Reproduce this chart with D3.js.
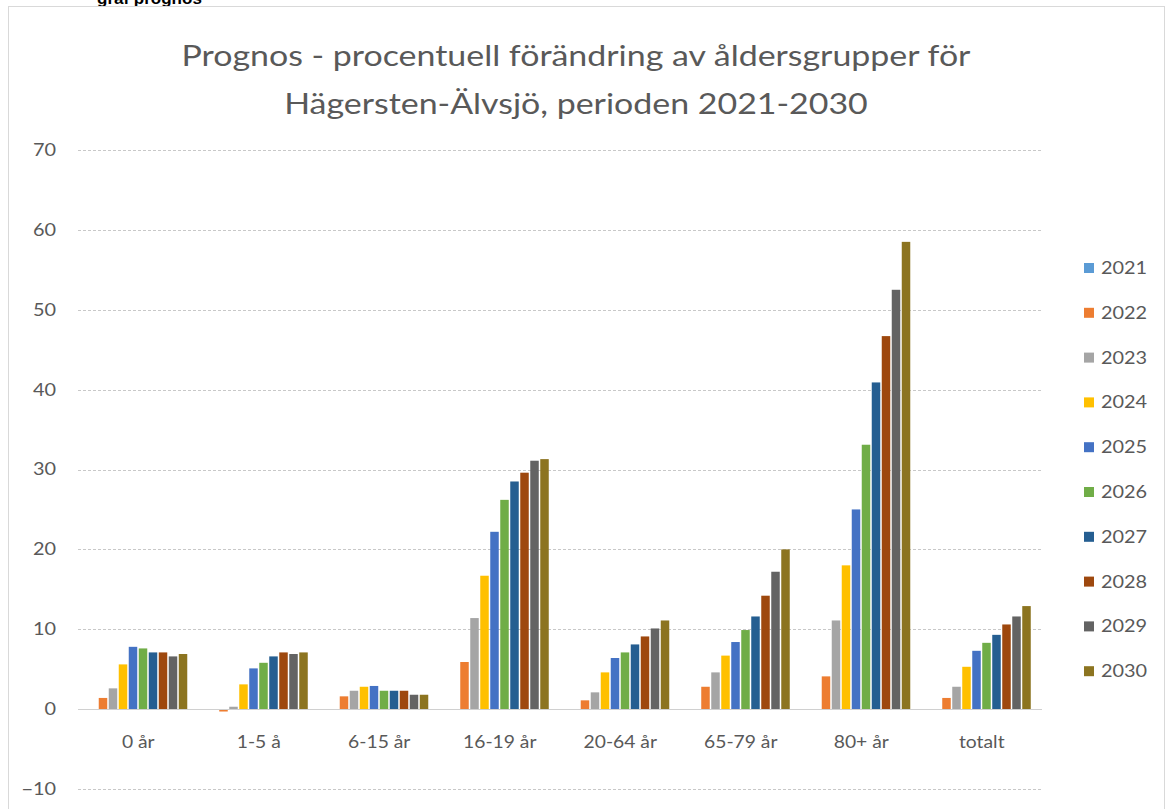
<!DOCTYPE html>
<html><head><meta charset="utf-8">
<script src="https://cdn.jsdelivr.net/npm/d3@7/dist/d3.min.js"></script>
<style>
html,body{margin:0;padding:0;background:#fff;overflow:hidden;}
svg{display:block;}
</style></head>
<body>
<svg id="chart" width="1168" height="809"></svg>
<script>
const categories = ["0 år","1-5 å","6-15 år","16-19 år","20-64 år","65-79 år","80+ år","totalt"];
const years = ["2021","2022","2023","2024","2025","2026","2027","2028","2029","2030"];
const colors = ["#5B9BD5","#ED7D31","#A5A5A5","#FFC000","#4472C4","#70AD47","#255E91","#9E480E","#636363","#8C7420"];
const v2021 = [0,0,0,0,0,0,0,0];
const v2022 = [1.4,-0.3,1.6,5.9,1.1,2.8,4.1,1.4];
const v2023 = [2.6,0.3,2.3,11.4,2.1,4.6,11.1,2.8];
const v2024 = [5.6,3.1,2.8,16.7,4.6,6.7,18.0,5.3];
const v2025 = [7.8,5.1,2.9,22.2,6.4,8.4,25.0,7.3];
const v2026 = [7.6,5.8,2.3,26.2,7.1,9.9,33.1,8.3];
const v2027 = [7.1,6.6,2.3,28.5,8.1,11.6,40.9,9.3];
const v2028 = [7.1,7.1,2.3,29.6,9.1,14.2,46.7,10.6];
const v2029 = [6.6,6.9,1.8,31.1,10.1,17.2,52.5,11.6];
const v2030 = [6.9,7.1,1.8,31.3,11.1,20.0,58.5,12.9];
const seriesValues = [v2021,v2022,v2023,v2024,v2025,v2026,v2027,v2028,v2029,v2030];
const yTicks = [-10,0,10,20,30,40,50,60,70];
const titleLines = ["Prognos - procentuell förändring av åldersgrupper för","Hägersten-Älvsjö, perioden 2021-2030"];

const svg = d3.select("#chart");
const font = "Lato, 'Open Sans', sans-serif";
const textColor = "#595959";
const sx = "scale(1.17,1)";

// partially visible heading above frame
svg.append("text").attr("x",97).attr("y",4).attr("font-family","'Liberation Sans',Arial,sans-serif")
  .attr("font-weight","bold").attr("font-size",17).attr("fill","#000").text("graf prognos");

// frame
svg.append("rect").attr("x",8.5).attr("y",6.5).attr("width",1156).attr("height",820)
  .attr("fill","#fff").attr("stroke","#d9d9d9").attr("stroke-width",1);

const x0 = d3.scaleBand().domain(categories).range([78,1042]).paddingInner(0.17).paddingOuter(0.085);
const x1 = d3.scaleBand().domain(years).range([0,x0.bandwidth()]);
const y = d3.scaleLinear().domain([-10,70]).range([789,150]);

// gridlines
const grid = svg.append("g");
grid.selectAll("line").data(yTicks.filter(t=>t!==0)).join("line")
  .attr("x1",78).attr("x2",1042)
  .attr("y1",d=>Math.round(y(d))+0.5).attr("y2",d=>Math.round(y(d))+0.5)
  .attr("stroke","#c8c8c8").attr("stroke-width",1).attr("stroke-dasharray","3,2");

// y axis labels via d3 axis
const yAxis = svg.append("g").attr("transform","translate(56,0)")
  .call(d3.axisLeft(y).tickValues(yTicks).tickSize(0).tickPadding(0).tickFormat(d3.format("d")));
yAxis.select(".domain").remove();
yAxis.selectAll("text").attr("font-family",font).attr("font-size",17).attr("fill",textColor).attr("transform",sx);

// bars
const groups = svg.append("g").selectAll("g").data(seriesValues).join("g")
  .attr("fill",(d,i)=>colors[i]);
groups.selectAll("rect").data((d,i)=>d.map((v,j)=>({v,cat:categories[j],yr:years[i]}))).join("rect")
  .attr("x",d=>x0(d.cat)+x1(d.yr)+0.5)
  .attr("width",x1.bandwidth()-1.5)
  .attr("y",d=>y(Math.max(0,d.v)))
  .attr("height",d=>Math.abs(y(d.v)-y(0)));

// zero line
svg.append("line").attr("x1",78).attr("x2",1042).attr("y1",Math.round(y(0))+0.5).attr("y2",Math.round(y(0))+0.5)
  .attr("stroke","#d0d0d0").attr("stroke-width",1);

// x axis labels
const xAxis = svg.append("g").attr("transform","translate(0,730)")
  .call(d3.axisBottom(x0).tickSize(0).tickPadding(6));
xAxis.select(".domain").remove();
xAxis.selectAll("text").attr("font-family",font).attr("font-size",16.5).attr("fill",textColor).attr("transform",sx);

// title
svg.append("g").selectAll("text").data(titleLines).join("text")
  .attr("transform",(d,i)=>`translate(576,${66+i*48}) ${sx}`).attr("text-anchor","middle")
  .attr("font-family",font).attr("font-size",29).attr("fill",textColor).text(d=>d);

// legend
const leg = svg.append("g").selectAll("g").data(years).join("g")
  .attr("transform",(d,i)=>`translate(1084,${268+i*44.8})`);
leg.append("rect").attr("x",0).attr("y",-5).attr("width",10).attr("height",10).attr("fill",(d,i)=>colors[i]);
leg.append("text").attr("transform",`translate(17,0) ${sx}`).attr("dy","0.35em").attr("font-family",font)
  .attr("font-size",17).attr("fill",textColor).text(d=>d);
</script>
</body></html>
